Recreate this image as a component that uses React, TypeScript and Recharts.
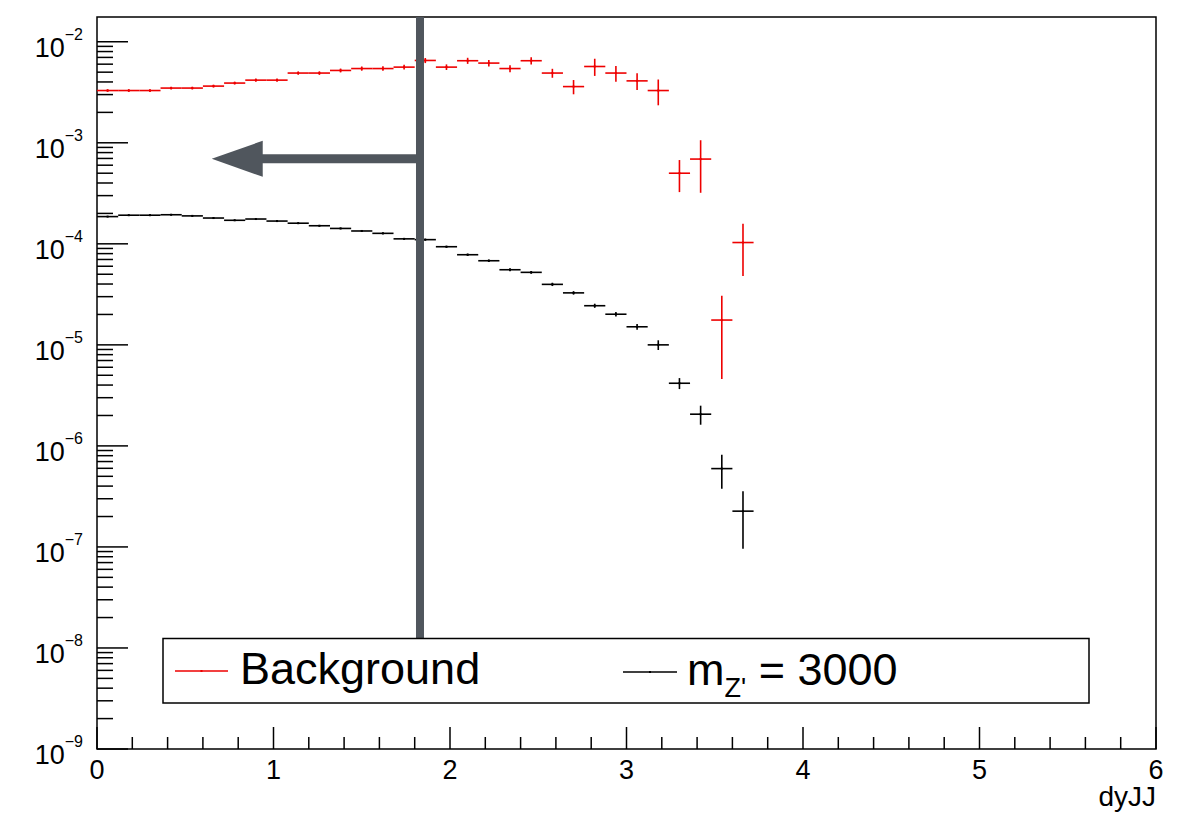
import { ScatterChart, Scatter, ErrorBar, XAxis, YAxis, ReferenceArea, ReferenceLine, ReferenceDot } from 'recharts'

// bin centres (bin width 0.12)
const binCenters = [
  0.06, 0.18, 0.3, 0.42, 0.54, 0.66, 0.78, 0.9, 1.02, 1.14, 1.26, 1.38, 1.5, 1.62, 1.74, 1.86,
  1.98, 2.1, 2.22, 2.34, 2.46, 2.58, 2.7, 2.82, 2.94, 3.06, 3.18, 3.3, 3.42, 3.54, 3.66,
]
const binHalfWidth = 0.06

const backgroundValues = [
  3.29e-3, 3.29e-3, 3.29e-3, 3.48e-3, 3.48e-3, 3.64e-3, 3.9e-3, 4.17e-3, 4.17e-3, 4.9e-3, 4.9e-3,
  5.2e-3, 5.43e-3, 5.43e-3, 5.61e-3, 6.53e-3, 5.61e-3, 6.49e-3, 6.15e-3, 5.43e-3, 6.49e-3, 4.9e-3,
  3.6e-3, 5.69e-3, 4.9e-3, 4.1e-3, 3.29e-3, 5.0e-4, 6.9e-4, 1.76e-5, 1.03e-4,
]
const backgroundErrors = [
  1.0e-4, 1.0e-4, 1.0e-4, 1.1e-4, 1.1e-4, 1.2e-4, 1.3e-4, 1.5e-4, 1.6e-4, 1.9e-4, 2.0e-4,
  2.3e-4, 2.6e-4, 2.8e-4, 3.0e-4, 3.8e-4, 3.6e-4, 4.5e-4, 4.6e-4, 4.4e-4, 5.5e-4, 5.0e-4,
  5.8e-4, 1.1e-3, 8.7e-4, 7.7e-4, 9.4e-4, 1.75e-4, 3.7e-4, 1.3e-5, 5.5e-5,
]

const signalValues = [
  1.86e-4, 1.92e-4, 1.92e-4, 1.94e-4, 1.89e-4, 1.8e-4, 1.71e-4, 1.76e-4, 1.68e-4, 1.6e-4, 1.51e-4,
  1.42e-4, 1.34e-4, 1.27e-4, 1.12e-4, 1.1e-4, 9.36e-5, 7.8e-5, 6.8e-5, 5.54e-5, 5.22e-5, 3.97e-5,
  3.27e-5, 2.44e-5, 2.01e-5, 1.51e-5, 1.0e-5, 4.17e-6, 2.06e-6, 5.96e-7, 2.26e-7,
]
const signalErrors = [
  2.5e-6, 2.6e-6, 2.6e-6, 2.6e-6, 2.6e-6, 2.6e-6, 2.6e-6, 2.6e-6, 2.6e-6, 2.6e-6, 2.5e-6,
  2.5e-6, 2.4e-6, 2.3e-6, 2.2e-6, 2.2e-6, 2.1e-6, 2.0e-6, 1.9e-6, 1.8e-6, 1.7e-6, 1.5e-6,
  1.3e-6, 1.15e-6, 1.0e-6, 1.0e-6, 1.1e-6, 5.2e-7, 4.4e-7, 2.2e-7, 1.3e-7,
]

const seriesNames = ['Background', 'm_Z\' = 3000']
const seriesColors = ['#ee0000', '#000000']

const xTicks = [
  0, 0.2, 0.4, 0.6, 0.8, 1, 1.2, 1.4, 1.6, 1.8, 2, 2.2, 2.4, 2.6, 2.8, 3, 3.2, 3.4, 3.6, 3.8,
  4, 4.2, 4.4, 4.6, 4.8, 5, 5.2, 5.4, 5.6, 5.8, 6,
]
const yDecades = [-9, -8, -7, -6, -5, -4, -3, -2]
const yMax = 0.01758
const xLabel = 'dyJJ'

// annotation (cut line + arrow)
const cutX = 1.83
const cutBottomY = 1.2e-8
const arrowY = 6.95e-4
const arrowTipX = 0.65
const arrowHeadBaseX = 0.934

const yTicks: number[] = []
yDecades.forEach((e) => {
  for (let m = 1; m <= 9; m++) {
    const v = m * Math.pow(10, e)
    if (v <= yMax) yTicks.push(v)
  }
})

const makeRows = (values: number[], errors: number[]) =>
  values.map((v, i) => ({ x: binCenters[i], y: v, yErr: errors[i], xErr: binHalfWidth }))

const backgroundData = makeRows(backgroundValues, backgroundErrors)
const signalData = makeRows(signalValues, signalErrors)

const FONT = '"Liberation Sans", Arial, Helvetica, sans-serif'

const YTick = ({ x, y, payload }: any) => {
  const lg = Math.log10(payload.value)
  const exp = Math.round(lg)
  const major = Math.abs(lg - exp) < 1e-6
  return (
    <g>
      <line x1={x} x2={x + (major ? 31 : 16)} y1={y} y2={y} stroke="#000" strokeWidth={1.5} />
      {major && (
        <text x={x - 14} y={y + 15} textAnchor="end" fontSize={27} fontFamily={FONT} fill="#000">
          10
          <tspan dy={-17} fontSize={16}>{'\u2212' + -exp}</tspan>
        </text>
      )}
    </g>
  )
}

const XTick = ({ x, y, payload }: any) => {
  const major = Math.round(payload.value * 5) % 5 === 0
  return (
    <g>
      <line x1={x} x2={x} y1={y} y2={y - (major ? 22 : 12)} stroke="#000" strokeWidth={1.5} />
      {major && (
        <text x={x} y={y + 30} textAnchor="middle" fontSize={27} fontFamily={FONT} fill="#000">
          {Math.round(payload.value)}
        </text>
      )}
    </g>
  )
}

const Dot = ({ cx, cy, fill }: any) => <rect x={cx - 1} y={cy - 1} width={2} height={2} fill={fill} />

export default function App() {
  return (
    <div style={{ position: 'relative', width: 1181, height: 814, background: '#fff' }}>
      <style>{'body{margin:0}'}</style>
      <ScatterChart width={1181} height={814} margin={{ top: 17, right: 25, left: 0, bottom: 0 }}>
        <XAxis
          type="number"
          dataKey="x"
          domain={[0, 6]}
          ticks={xTicks}
          interval={0}
          tick={<XTick />}
          tickSize={0}
          tickMargin={0}
          axisLine={false}
          height={65}
          allowDataOverflow
          label={{
            content: ({ viewBox }: any) => (
              <text
                x={viewBox.x + viewBox.width}
                y={viewBox.y + 57}
                textAnchor="end"
                fontSize={28}
                fontFamily={FONT}
                fill="#000"
              >
                {xLabel}
              </text>
            ),
          }}
        />
        <YAxis
          type="number"
          dataKey="y"
          scale="log"
          domain={[1e-9, yMax]}
          ticks={yTicks}
          interval={0}
          tick={<YTick />}
          tickSize={0}
          tickMargin={0}
          axisLine={false}
          width={97}
          allowDataOverflow
        />
        <ReferenceArea x1={0} x2={6} y1={1e-9} y2={yMax} fill="none" stroke="#000" strokeWidth={1.5} ifOverflow="visible" />
        <Scatter data={backgroundData} fill={seriesColors[0]} shape={<Dot />} isAnimationActive={false}>
          <ErrorBar dataKey="xErr" direction="x" width={0} stroke={seriesColors[0]} strokeWidth={1.6} />
          <ErrorBar dataKey="yErr" direction="y" width={0} stroke={seriesColors[0]} strokeWidth={1.6} />
        </Scatter>
        <Scatter data={signalData} fill={seriesColors[1]} shape={<Dot />} isAnimationActive={false}>
          <ErrorBar dataKey="xErr" direction="x" width={0} stroke={seriesColors[1]} strokeWidth={1.6} />
          <ErrorBar dataKey="yErr" direction="y" width={0} stroke={seriesColors[1]} strokeWidth={1.6} />
        </Scatter>
        <ReferenceLine
          segment={[{ x: cutX, y: yMax }, { x: cutX, y: cutBottomY }]}
          stroke="#50565d"
          strokeWidth={8}
          ifOverflow="visible"
        />
        <ReferenceLine
          segment={[{ x: arrowHeadBaseX, y: arrowY }, { x: cutX, y: arrowY }]}
          stroke="#50565d"
          strokeWidth={9}
          ifOverflow="visible"
        />
        <ReferenceDot
          x={arrowTipX}
          y={arrowY}
          ifOverflow="visible"
          shape={(p: any) => (
            <polygon
              points={`${p.cx},${p.cy} ${p.cx + 51},${p.cy - 18} ${p.cx + 51},${p.cy + 18}`}
              fill="#50565d"
            />
          )}
        />
      </ScatterChart>

      {/* legend box */}
      <svg width={1181} height={814} style={{ position: 'absolute', left: 0, top: 0, pointerEvents: 'none' }}>
        <rect x={163} y={638.5} width={926} height={64.5} fill="#fff" stroke="#000" strokeWidth={1.5} />
        <line x1={175} x2={228} y1={671} y2={671} stroke={seriesColors[0]} strokeWidth={1.5} />
        <rect x={200.5} y={670} width={2} height={2} fill={seriesColors[0]} />
        <text x={240} y={684} fontSize={45} fontFamily={FONT} fill="#000">
          {seriesNames[0]}
        </text>
        <line x1={623} x2={677} y1={672} y2={672} stroke={seriesColors[1]} strokeWidth={1.5} />
        <rect x={649} y={671} width={2} height={2} fill={seriesColors[1]} />
        <text x={687} y={685} fontSize={45} fontFamily={FONT} fill="#000">
          m
          <tspan dy={12} fontSize={27}>Z'</tspan>
          <tspan dy={-12}> = 3000</tspan>
        </text>
      </svg>
    </div>
  )
}
